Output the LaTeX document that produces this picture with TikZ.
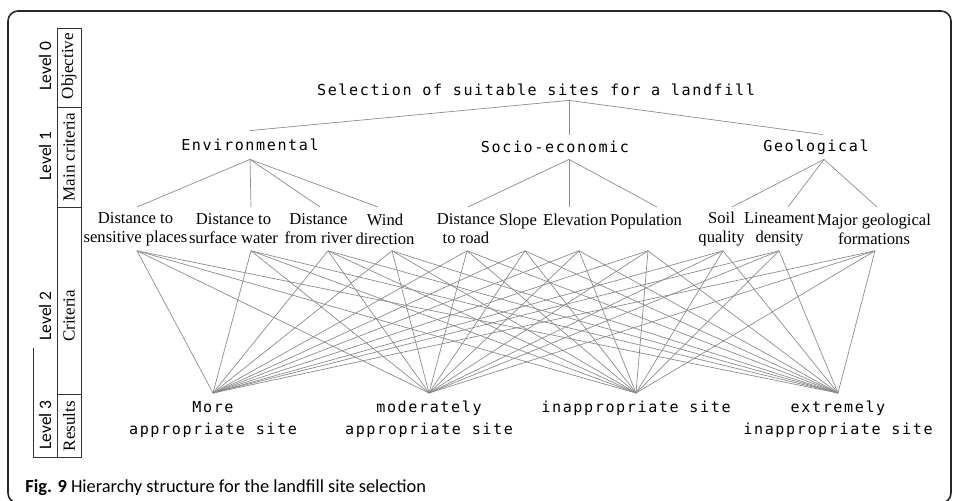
\documentclass[tikz,border=0pt]{standalone}
\usepackage{fontspec}
\setmainfont{Liberation Serif}
\newfontfamily\monofont[LetterSpace=10.6]{DejaVu Sans Mono}
\newfontfamily\lvlfont{Carlito}

\begin{document}
\begin{tikzpicture}[x=0.5pt, y=-0.5pt,
		link/.style={draw=black!45, line width=0.35pt},
		frame/.style={draw=black!85, line width=0.8pt, rounded corners=5pt},
		cell/.style={draw=black!80, line width=0.5pt},
		lvl/.style={rotate=90, inner sep=0pt, font=\lvlfont\fontsize{8.75}{10}\selectfont},
		tag/.style={rotate=90, inner sep=0pt, font=\fontsize{8.5}{10}\selectfont},
		head/.style={inner sep=0pt, minimum height=14pt, font=\monofont\fontsize{7.55}{9}\selectfont},
		crit/.style={anchor=north, align=center, inner sep=0pt, minimum height=21.5pt, font=\fontsize{8.3}{9.5}\selectfont},
		result/.style={anchor=north, align=center, inner xsep=0pt, inner ysep=4pt, font=\monofont\fontsize{7.55}{11}\selectfont}]
		\useasboundingbox (0,0) rectangle (955,500);
		\draw[frame] (8,11) rectangle (951,503);

		% level column on the left
		\draw[cell] (57,28) rectangle (81,457);
		\foreach \y in {107,207,394}
			\draw[cell] (57,\y) -- (81,\y);
		\draw[cell] (33,348) -- (33,457) -- (57,457);
		\node[lvl] (lv0) at (45,66) {Level 0};
		\node[lvl] (lv1) at (45,156) {Level 1};
		\node[lvl] (lv2) at (45,316) {Level 2};
		\node[lvl] (lv3) at (45,425) {Level 3};
		\node[tag] (objective) at (69,66) {Objective};
		\node[tag] (maincrit) at (69,157) {Main criteria};
		\node[tag] (criteria) at (69,316) {Criteria};
		\node[tag] (results) at (69,426) {Results};

		% goal and main criteria
		\node[head, minimum height=10pt] (goal) at (536,90) {Selection of suitable sites for a landfill};
		\node[head] (env) at (250,145) {Environmental};
		\node[head, minimum height=12pt] (soc) at (555,147) {Socio-economic};
		\node[head, minimum height=12pt] (geo) at (816,147) {Geological};

		% criteria
		\foreach \n/\x/\txt in {c1/135.5/{Distance to\\sensitive places}, c2/233.5/{Distance to\\surface water},
				c3/318.5/{Distance\\from river}, c4/385/{Wind\\direction}, c5/466/{Distance\\to road},
				c6/518/{Slope\\\mbox{}}, c7/575/{Elevation\\\mbox{}}, c8/646/{Population\\\mbox{}},
				c9/721.5/{Soil\\quality}, c10/779.5/{Lineament\\density}, c11/874/{Major geological\\formations}}
			\node[crit] (\n) at (\x,207) {\txt};

		% results
		\node[result] (r1) at (213,393) {More\\appropriate site};
		\node[result] (r2) at (429,393) {moderately\\appropriate site};
		\node[result] (r3) at (636,393) {inappropriate site};
		\node[result] (r4) at (838,393) {extremely\\inappropriate site};

		% tree lines
		\draw[link] (goal.south -| 569,0) -- (env.north);
		\draw[link] (goal.south -| 569,0) -- (soc.north -| 569,0);
		\draw[link] (goal.south -| 569,0) -- (geo.north -| 823,0);
		\foreach \c/\tx in {c1/137, c2/251, c3/320, c4/378}
			\draw[link] (env.south) -- (\c.north -| \tx,0);
		\foreach \c/\tx in {c5/468, c7/569, c8/657}
			\draw[link] (soc.south -| 569,0) -- (\c.north -| \tx,0);
		\foreach \c/\tx in {c9/732, c10/788, c11/877}
			\draw[link] (geo.south -| 824,0) -- (\c.north -| \tx,0);

		% every criterion to every result
		\foreach \c/\bx in {c1/137, c2/251, c3/328, c4/392, c5/467, c6/525, c7/579, c8/648, c9/723, c10/779, c11/875}
			\foreach \r in {r1,r2,r3,r4}
				\draw[link] (\c.south -| \bx,0) -- (\r.north);

		\node[anchor=base west, inner sep=0pt, font=\lvlfont\fontsize{9.2}{11}\selectfont] (caption) at (25,492)
			{\textbf{Fig. 9} Hierarchy structure for the landfill site selection};
	\end{tikzpicture}
\end{document}
